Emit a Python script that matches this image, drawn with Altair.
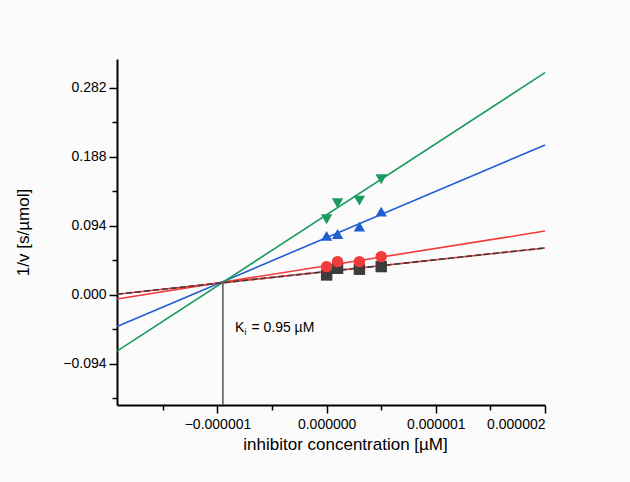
import altair as alt
import pandas as pd

# ---- data ----
x_conc = [0.0, 1e-7, 3e-7, 5e-7]
y_black = [0.0272, 0.0363, 0.0350, 0.0386]
y_red = [0.0386, 0.0454, 0.0454, 0.0522]
y_blue = [0.0804, 0.0831, 0.0930, 0.1135]
y_green = [0.1031, 0.1250, 0.1285, 0.1576]

fit_x = [-1.92e-6, 2.0e-6]
fit_black = [0.0010, 0.0640]
fit_red = [-0.0055, 0.0870]
fit_blue = [-0.0430, 0.2044]
fit_green = [-0.0766, 0.3029]

ki_x = -0.95e-6
ki_y = 0.0173

series = ["S1", "S2", "S3", "S4"]
colors = ["#3c3c3c", "#f23b3b", "#1f5fd2", "#1a9a5c"]
shapes = ["square", "circle", "triangle-up", "triangle-down"]

x_major = [-1e-6, 0.0, 1e-6, 2e-6]
x_minor = [-1.5e-6, -0.5e-6, 0.5e-6, 1.5e-6]
y_major = [-0.094, 0.0, 0.094, 0.188, 0.282]
y_minor = [-0.141, -0.047, 0.047, 0.141, 0.235]

x_domain = [-1.92e-6, 2.0e-6]
y_domain = [-0.15, 0.3215]

# ---- tables ----
pts = pd.DataFrame({
    "x": x_conc * 4,
    "y": y_black + y_red + y_blue + y_green,
    "s": sum([[s] * len(x_conc) for s in series], []),
})
fits = pd.DataFrame({
    "x": fit_x * 4,
    "y": fit_black + fit_red + fit_blue + fit_green,
    "s": sum([[s] * 2 for s in series], []),
})
ki = pd.DataFrame({"x": [ki_x], "y": [ki_y], "y2": [y_domain[0]]})

FONT = "Liberation Sans"

xs = alt.Scale(domain=x_domain, nice=False, zero=False)
ys = alt.Scale(domain=y_domain, nice=False, zero=False)
cs = alt.Scale(domain=series, range=colors)
ss = alt.Scale(domain=series, range=shapes)

x_axis = alt.Axis(orient="bottom", values=x_major, format=".6f", tickSize=8, tickWidth=1.5,
                  tickColor="black", domainColor="black", domainWidth=2,
                  labelFont=FONT, labelFontSize=14, labelColor="black",
                  labelPadding=4, grid=False,
                  title="inhibitor concentration [µM]", titleFont=FONT,
                  titleFontSize=17, titleFontWeight="normal", titleColor="black",
                  titleX=228, titleY=39, titleBaseline="middle", titleAlign="center")
y_axis = alt.Axis(orient="left", values=y_major, format=".3f", tickSize=8, tickWidth=1.5,
                  tickColor="black", domainColor="black", domainWidth=2,
                  labelFont=FONT, labelFontSize=14, labelColor="black",
                  labelPadding=3, grid=False,
                  title="1/v [s/µmol]", titleFont=FONT, titleFontSize=17,
                  titleFontWeight="normal", titleColor="black",
                  titleX=-94, titleY=173, titleAngle=-90,
                  titleBaseline="middle", titleAlign="center")
x_axis_minor = alt.Axis(orient="bottom", values=x_minor, labels=False, tickSize=5,
                        tickWidth=1.5, tickColor="black", domain=False, grid=False,
                        title=None)
y_axis_minor = alt.Axis(orient="left", values=y_minor, labels=False, tickSize=5,
                        tickWidth=1.5, tickColor="black", domain=False, grid=False,
                        title=None)


def X(axis=None):
    return alt.X("x:Q", scale=xs, axis=axis)


def Y(axis=None):
    return alt.Y("y:Q", scale=ys, axis=axis)


others = alt.Chart(fits[fits.s != "S1"]).mark_line(strokeWidth=1.6).encode(
    x=X(), y=Y(),
    color=alt.Color("s:N", scale=cs, legend=None), detail="s:N")
black_red = alt.Chart(fits[fits.s == "S1"]).mark_line(strokeWidth=1.6, color="#f23b3b").encode(
    x=X(), y=Y())
black_dash = alt.Chart(fits[fits.s == "S1"]).mark_line(strokeWidth=1.6, color="#3c3c3c",
                                                     strokeDash=[6, 3]).encode(
    x=X(), y=Y())

ki_rule = alt.Chart(ki).mark_rule(color="#555555", strokeWidth=1.5).encode(
    x=X(), y=Y(), y2="y2:Q")

points = alt.Chart(pts).mark_point(filled=True, opacity=1, size=130).encode(
    x=X(x_axis), y=Y(y_axis),
    color=alt.Color("s:N", scale=cs, legend=None),
    shape=alt.Shape("s:N", scale=ss, legend=None),
)

minor = alt.Chart(fits).mark_line(opacity=0).encode(
    x=X(x_axis_minor), y=Y(y_axis_minor))

txt_base = alt.Chart(ki)
t_k = txt_base.mark_text(text="K", align="left", baseline="alphabetic", dx=12,
                         font=FONT, fontSize=14, color="black").encode(
    x=X(), y=alt.value(273))
t_i = txt_base.mark_text(text="i", align="left", baseline="alphabetic", dx=21.5,
                         font=FONT, fontSize=9, color="black").encode(
    x=X(), y=alt.value(276))
t_rest = txt_base.mark_text(text="= 0.95 µM", align="left", baseline="alphabetic", dx=28.5,
                            font=FONT, fontSize=14, color="black").encode(
    x=X(), y=alt.value(273))

chart = alt.layer(
    others, black_red, black_dash, ki_rule, points, minor, t_k, t_i, t_rest,
).resolve_axis(x="independent", y="independent").properties(
    width=428, height=346,
    autosize=alt.AutoSizeParams(type="none"),
    padding={"left": 117, "top": 59, "right": 85, "bottom": 77},
).configure(background="#fbfbfb").configure_view(stroke=None)

chart.save("out.html", embed_options={"renderer": "svg", "actions": False})
